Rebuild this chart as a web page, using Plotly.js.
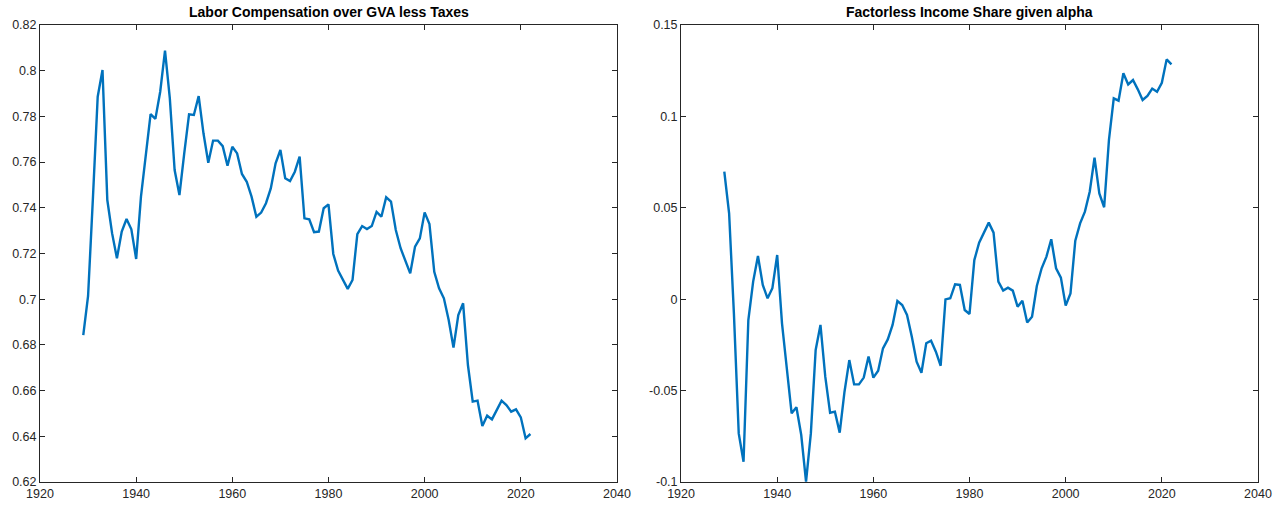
<!DOCTYPE html>
<html>
<head>
<meta charset="utf-8">
<script src="https://cdn.plot.ly/plotly-3.0.1.min.js"></script>
<style>html,body{margin:0;padding:0;background:#fff;}#chart{width:1278px;height:506px;}</style>
</head>
<body>
<div id="chart"></div>
<script>
const startYear = 1929;
const endYear = 2022;
const years = [];
for (let y = startYear; y <= endYear; y++) years.push(y);

const laborShare = [
  0.6843, 0.7014, 0.744, 0.7886, 0.8003, 0.7434, 0.7288, 0.7179, 0.7296, 0.7351,
  0.7306, 0.7176, 0.7449, 0.7638, 0.7810, 0.7789, 0.7908, 0.8088, 0.7879, 0.7565,
  0.7456, 0.7638, 0.7809, 0.7806, 0.7889, 0.7726, 0.7597, 0.7694, 0.7694, 0.7670,
  0.7584, 0.7667, 0.7638, 0.7548, 0.7514, 0.7449, 0.7361, 0.7379, 0.7420, 0.7485,
  0.7595, 0.7653, 0.7529, 0.7517, 0.7558, 0.7624, 0.7354, 0.7350, 0.7293, 0.7296,
  0.7398, 0.7415, 0.7198, 0.7125, 0.7084, 0.7045, 0.7084, 0.7285, 0.7320, 0.7307,
  0.7320, 0.7382, 0.7361, 0.7446, 0.7427, 0.7303, 0.7223, 0.7172, 0.7113, 0.7230,
  0.7266, 0.7380, 0.7329, 0.7120, 0.7048, 0.7004, 0.6909, 0.6788, 0.6931, 0.6982,
  0.6712, 0.6552, 0.6556, 0.6445, 0.6490, 0.6474, 0.6515, 0.6556, 0.6537, 0.6508,
  0.6518, 0.6483, 0.6391, 0.6410
];

const factorlessShare = [
  0.0698, 0.0470, -0.0080, -0.0734, -0.0889, -0.0114, 0.0096, 0.0236, 0.0078, 0.0005,
  0.0060, 0.0242, -0.0132, -0.0369, -0.0624, -0.0591, -0.0743, -0.0998, -0.0734, -0.0278,
  -0.0141, -0.0424, -0.0621, -0.0615, -0.0730, -0.0506, -0.0333, -0.0466, -0.0466, -0.0429,
  -0.0314, -0.0429, -0.0391, -0.0269, -0.0220, -0.0141, -0.0010, -0.0032, -0.0086, -0.0205,
  -0.0342, -0.0402, -0.0241, -0.0227, -0.0287, -0.0364, -0.0001, 0.0005, 0.0081, 0.0078,
  -0.0059, -0.0081, 0.0214, 0.0309, 0.0360, 0.0419, 0.0364, 0.0096, 0.0047, 0.0063,
  0.0047, -0.0041, -0.0008, -0.0127, -0.0096, 0.0072, 0.0169, 0.0233, 0.0328, 0.0169,
  0.0118, -0.0035, 0.0032, 0.0320, 0.0415, 0.0479, 0.0588, 0.0774, 0.0579, 0.0503,
  0.0871, 0.1099, 0.1086, 0.1236, 0.1175, 0.1199, 0.1148, 0.1090, 0.1112, 0.1152,
  0.1135, 0.1184, 0.1312, 0.1285
];

const xTickVals = [1920, 1940, 1960, 1980, 2000, 2020, 2040];
const xTickText = ['1920', '1940', '1960', '1980', '2000', '2020', '2040'];
const yLeftTickVals = [0.62, 0.64, 0.66, 0.68, 0.70, 0.72, 0.74, 0.76, 0.78, 0.80, 0.82];
const yLeftTickText = ['0.62', '0.64', '0.66', '0.68', '0.7', '0.72', '0.74', '0.76', '0.78', '0.8', '0.82'];
const yRightTickVals = [-0.1, -0.05, 0, 0.05, 0.1, 0.15];
const yRightTickText = ['-0.1', '-0.05', '0', '0.05', '0.1', '0.15'];

const titleLeft = 'Labor Compensation over GVA less Taxes';
const titleRight = 'Factorless Income Share given alpha';

const lineColor = '#0072BD';
const axColor = '#262626';
const fontFam = '"Liberation Sans", Arial, Helvetica, sans-serif';

function axisBase(extra) {
  return Object.assign({
    showgrid: false,
    zeroline: false,
    showline: true,
    mirror: 'ticks',
    linecolor: axColor,
    linewidth: 1,
    ticks: 'inside',
    ticklen: 5,
    tickwidth: 1,
    tickcolor: axColor,
    tickfont: {family: fontFam, size: 12.5, color: axColor},
    fixedrange: true
  }, extra);
}

const traces = [
  {x: years, y: laborShare, type: 'scatter', mode: 'lines', xaxis: 'x', yaxis: 'y',
   line: {color: lineColor, width: 2.4}, hoverinfo: 'skip'},
  {x: years, y: factorlessShare, type: 'scatter', mode: 'lines', xaxis: 'x2', yaxis: 'y2',
   line: {color: lineColor, width: 2.4}, hoverinfo: 'skip'}
];

const layout = {
  width: 1278, height: 506,
  margin: {l: 40, r: 20, t: 25, b: 24},
  paper_bgcolor: '#ffffff', plot_bgcolor: '#ffffff',
  showlegend: false,
  font: {family: fontFam, size: 12, color: axColor},
  xaxis: axisBase({domain: [0, 0.4737], range: [1920, 2040], tickvals: xTickVals, ticktext: xTickText, anchor: 'y'}),
  yaxis: axisBase({range: [0.62, 0.82], tickvals: yLeftTickVals, ticktext: yLeftTickText, anchor: 'x'}),
  xaxis2: axisBase({domain: [0.5263, 1], range: [1920, 2040], tickvals: xTickVals, ticktext: xTickText, anchor: 'y2'}),
  yaxis2: axisBase({range: [-0.1, 0.15], tickvals: yRightTickVals, ticktext: yRightTickText, anchor: 'x2'}),
  annotations: [
    {text: '<b>' + titleLeft + '</b>', xref: 'paper', yref: 'paper', x: 0.2375, y: 1, yshift: 3,
     xanchor: 'center', yanchor: 'bottom', showarrow: false, font: {family: fontFam, size: 14, color: '#000'}},
    {text: '<b>' + titleRight + '</b>', xref: 'paper', yref: 'paper', x: 0.7635, y: 1, yshift: 3,
     xanchor: 'center', yanchor: 'bottom', showarrow: false, font: {family: fontFam, size: 14, color: '#000'}}
  ]
};

Plotly.newPlot('chart', traces, layout, {staticPlot: true, displayModeBar: false});
</script>
</body>
</html>
